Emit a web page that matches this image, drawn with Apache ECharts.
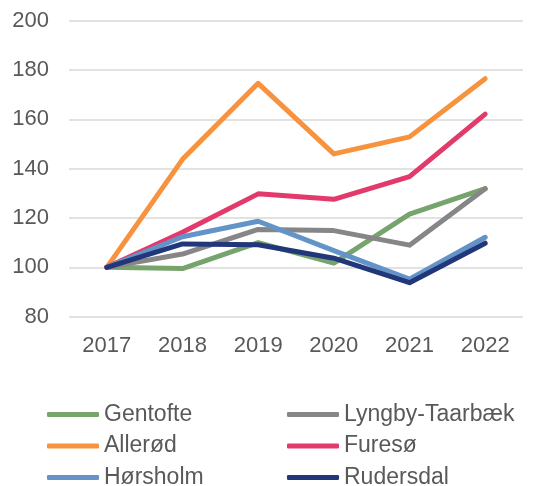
<!DOCTYPE html>
<html>
<head>
<meta charset="utf-8">
<script src="https://cdn.jsdelivr.net/npm/echarts@6/dist/echarts.min.js"></script>
<style>
  html, body { margin: 0; padding: 0; background: #ffffff; }
  #chart { width: 543px; height: 486px; }
</style>
</head>
<body>
<div id="chart"></div>
<script>
// Index (2017 = 100) per municipality
const years = ['2017', '2018', '2019', '2020', '2021', '2022'];

const gentofte = [100, 99.5, 110, 101.7, 121.6, 131.9];
const lyngby = [100, 105.4, 115.4, 114.9, 109, 131.9];
const alleroed = [100, 143.8, 174.6, 146, 152.9, 176.5];
const furesoe = [100, 114.2, 129.8, 127.6, 136.8, 162.1];
const hoersholm = [100, 112.4, 118.7, 106.8, 95.2, 112.2];
const rudersdal = [100, 109.5, 109.2, 103.7, 93.8, 109.8];

const yTicks = { min: 80, max: 200, step: 20 };

const seriesDefs = [
  { name: 'Gentofte', data: gentofte, color: '#77A46C' },
  { name: 'Lyngby-Taarbæk', data: lyngby, color: '#868686' },
  { name: 'Allerød', data: alleroed, color: '#F7933F' },
  { name: 'Furesø', data: furesoe, color: '#E23A6B' },
  { name: 'Hørsholm', data: hoersholm, color: '#6394C7' },
  { name: 'Rudersdal', data: rudersdal, color: '#22377A' }
];

const font = 'Liberation Sans, Arial, sans-serif';
const textGray = '#595959';

// two legend columns, three rows each
const legendBase = {
  orient: 'vertical',
  top: 403,
  height: 120,
  padding: 0,
  itemWidth: 52,
  itemHeight: 5,
  itemGap: 8.5,
  icon: 'roundRect',
  textStyle: { fontFamily: font, fontSize: 23, color: textGray, lineHeight: 23 },
  selectedMode: false
};

const chart = echarts.init(document.getElementById('chart'), null, { renderer: 'canvas' });
chart.setOption({
  backgroundColor: '#ffffff',
  animation: false,
  grid: { left: 69, right: 20, top: 20.7, bottom: 169.3, containLabel: false },
  xAxis: {
    type: 'category',
    data: years,
    boundaryGap: true,
    axisLine: { show: false },
    axisTick: { show: false },
    axisLabel: { margin: 18, fontFamily: font, fontSize: 22, color: textGray }
  },
  yAxis: {
    type: 'value',
    min: yTicks.min,
    max: yTicks.max,
    interval: yTicks.step,
    axisLine: { show: false },
    axisTick: { show: false },
    splitLine: { lineStyle: { color: '#D9D9D9', width: 1.5 } },
    axisLabel: { margin: 20, fontFamily: font, fontSize: 22, color: textGray }
  },
  legend: [
    Object.assign({}, legendBase, { left: 47, data: ['Gentofte', 'Allerød', 'Hørsholm'] }),
    Object.assign({}, legendBase, { left: 287, data: ['Lyngby-Taarbæk', 'Furesø', 'Rudersdal'] })
  ],
  series: seriesDefs.map(s => ({
    name: s.name,
    type: 'line',
    data: s.data,
    symbol: 'none',
    smooth: false,
    color: s.color,
    lineStyle: { color: s.color, width: 5, cap: 'round', join: 'round' }
  }))
});
</script>
</body>
</html>
